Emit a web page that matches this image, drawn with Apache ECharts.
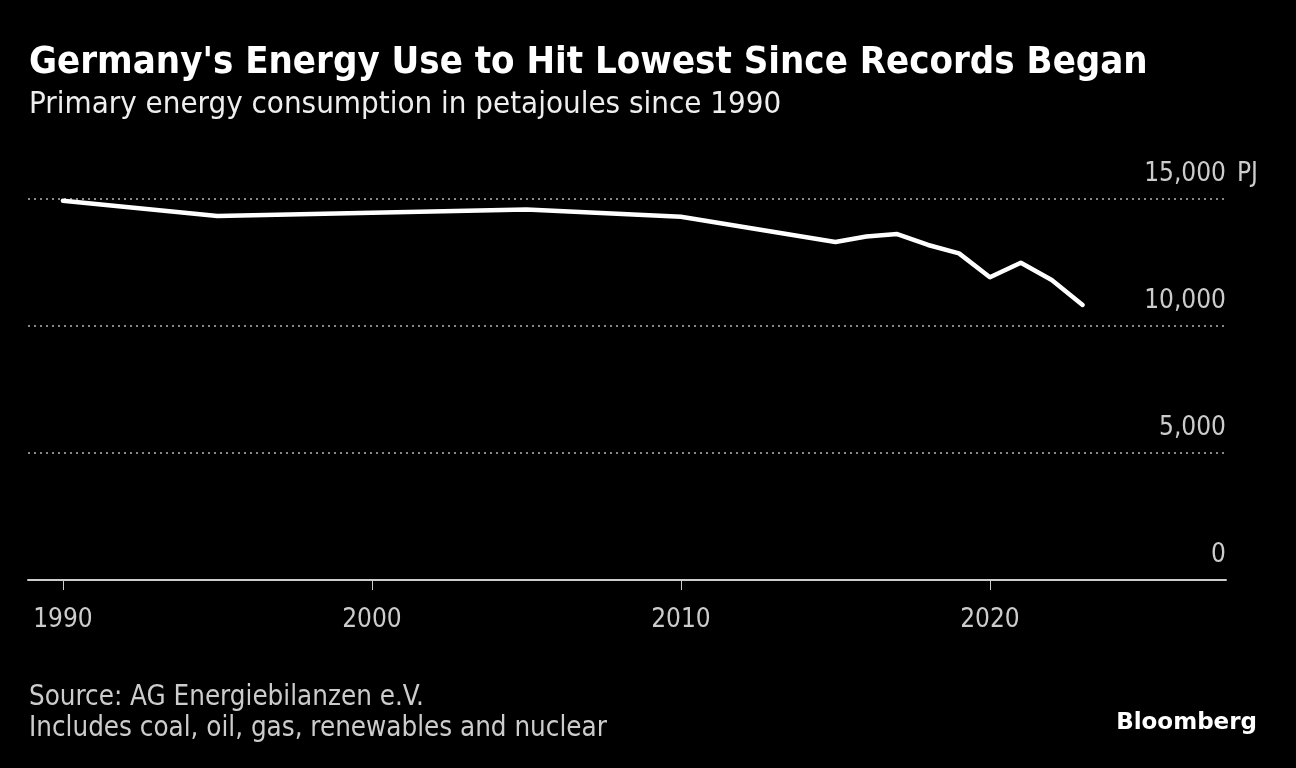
<!DOCTYPE html>
<html><head><meta charset="utf-8">
<script src="https://cdn.jsdelivr.net/npm/echarts@6/dist/echarts.min.js"></script>
<style>html,body{margin:0;padding:0;background:#000;}#c{width:1296px;height:768px;}</style>
</head><body><div id="c"></div>
<script>
const years = [1990, 1995, 2005, 2010, 2015, 2016, 2017, 2018, 2019, 2020, 2021, 2022, 2023];
const consumption = [14930, 14330, 14590, 14300, 13310, 13520, 13620, 13190, 12860, 11920, 12490, 11810, 10830];
const xTickLabels = [1990, 2000, 2010, 2020];
const yTickValues = [0, 5000, 10000, 15000];

const FONT = '"DejaVu Sans Condensed", "Liberation Sans Narrow", "DejaVu Sans", sans-serif';
const chart = echarts.init(document.getElementById('c'));
chart.setOption({
  backgroundColor: '#000',
  animation: false,
  title: [
    {text: "Germany's Energy Use to Hit Lowest Since Records Began", left: 24, top: 39,
     textStyle: {color: '#fff', fontFamily: FONT, fontWeight: 'bold', fontSize: 38}},
    {text: 'Primary energy consumption in petajoules since 1990', left: 24, top: 84,
     textStyle: {color: '#eee', fontFamily: FONT, fontWeight: 'normal', fontSize: 31}},
    {text: 'Source: AG Energiebilanzen e.V.\nIncludes coal, oil, gas, renewables and nuclear', left: 24, top: 677,
     textStyle: {color: '#ccc', fontFamily: FONT, fontWeight: 'normal', fontSize: 27.5, lineHeight: 31}},
    {text: 'Bloomberg', right: 34, top: 707,
     textStyle: {color: '#fff', fontFamily: '"DejaVu Sans", sans-serif', fontWeight: 'bold', fontSize: 23}}
  ],
  grid: {left: 28, right: 70, top: 199, bottom: 188, containLabel: false},
  xAxis: {
    type: 'value', min: 1988.87, max: 2027.64,
    splitLine: {show: false},
    axisLine: {show: true, lineStyle: {color: '#ccc', width: 2}},
    axisTick: {show: true, customValues: xTickLabels, length: 10, lineStyle: {color: '#ccc', width: 1}},
    axisLabel: {customValues: xTickLabels, color: '#ccc', fontFamily: FONT, fontSize: 26, margin: 27,
      formatter: v => String(v)}
  },
  yAxis: {
    type: 'value', min: 0, max: 15000, interval: 5000, position: 'right',
    axisLine: {show: false}, axisTick: {show: false},
    splitLine: {show: true, lineStyle: {color: '#888', type: [2, 4], width: 2}},
    axisLabel: {
      customValues: yTickValues,
      inside: false, margin: -100, align: 'left', verticalAlign: 'bottom', padding: [0, 0, 12, 0],
      formatter: v => {
        const s = v.toLocaleString('en-US');
        return v === 15000 ? '{n|' + s + '}{u|PJ}' : '{n|' + s + '}';
      },
      rich: {
        n: {width: 100, align: 'right', color: '#ccc', fontFamily: FONT, fontSize: 26},
        u: {align: 'right', padding: [0, 0, 0, 11], color: '#ccc', fontFamily: FONT, fontSize: 26}
      }
    }
  },
  series: [{
    type: 'line', data: years.map((y, i) => [y, consumption[i]]),
    showSymbol: false, lineStyle: {color: '#fff', width: 4.5, join: 'round', cap: 'round'}
  }]
});
</script></body></html>
